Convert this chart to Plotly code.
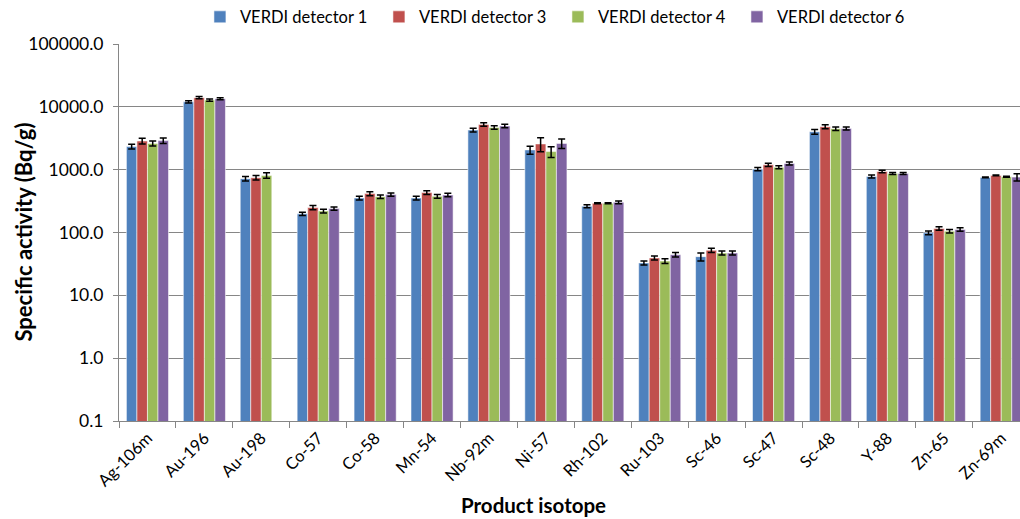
import plotly.graph_objects as go

isotopes = ["Ag-106m", "Au-196", "Au-198", "Co-57", "Co-58", "Mn-54", "Nb-92m", "Ni-57",
            "Rh-102", "Ru-103", "Sc-46", "Sc-47", "Sc-48", "Y-88", "Zn-65", "Zn-69m"]

det1 = [2330, 12000, 720, 198, 354, 354, 4280, 2065, 262, 32.8, 41.3, 1018, 4020, 780, 98.8, 753]
det3 = [2860, 14000, 745, 250, 416, 432, 5250, 2570, 292, 39.4, 52.1, 1195, 4830, 937, 116, 810]
det4 = [2620, 12800, 810, 220, 372, 377, 4710, 1940, 292, 35.2, 47.2, 1095, 4490, 871, 105, 773]
det6 = [2900, 13500, None, 240, 401, 395, 4960, 2620, 303, 44.4, 47.2, 1254, 4540, 871, 112, 761]

err1 = [200, 500, 60, 12, 25, 25, 300, 300, 15, 2.5, 6, 60, 350, 40, 7, 10]
err3 = [300, 600, 60, 20, 30, 30, 350, 650, 5, 3, 4, 70, 350, 40, 7, 10]
err4 = [250, 500, 80, 15, 25, 25, 300, 380, 5, 3, 3.5, 60, 300, 30, 7, 15]
err6 = [300, 500, 0, 15, 25, 25, 300, 450, 15, 3.5, 3.5, 70, 250, 30, 7, 100]

series_names = ["VERDI detector 1", "VERDI detector 3", "VERDI detector 4", "VERDI detector 6"]
series_values = [det1, det3, det4, det6]
series_errors = [err1, err3, err4, err6]
colors = ["#4F81BD", "#C0504D", "#9BBB59", "#8064A2"]

y_ticks = [0.1, 1, 10, 100, 1000, 10000, 100000]
y_ticktext = ["0.1", "1.0", "10.0", "100.0", "1000.0", "10000.0", "100000.0"]

FONT = "Lato, Calibri, 'Liberation Sans', sans-serif"

fig = go.Figure()
for name, vals, errs, col in zip(series_names, series_values, series_errors, colors):
    fig.add_trace(go.Bar(
        name=name, x=isotopes, y=vals,
        marker=dict(color=col, line=dict(color="rgba(255,255,255,0.55)", width=1)),
        error_y=dict(type="data", array=errs, visible=True, color="black",
                     thickness=1.5, width=3.5),
    ))

fig.update_layout(
    width=1020, height=519,
    margin=dict(l=119, r=0, t=44, b=98, autoexpand=False),
    paper_bgcolor="white", plot_bgcolor="white",
    barmode="group", bargap=0.26, bargroupgap=0,
    font=dict(family=FONT, size=16, color="black"),
    legend=dict(orientation="h", xref="container", yref="container",
                x=0.547, xanchor="center", y=0.967, yanchor="middle",
                entrywidth=134, entrywidthmode="pixels",
                font=dict(size=16.5), traceorder="normal"),
    showlegend=True,
)

fig.update_xaxes(
    type="category", range=[-0.5, 15.33], automargin=False,
    showline=True, linecolor="#868686", linewidth=1,
    ticks="outside", ticklen=6, tickcolor="#868686", tickson="boundaries",
    tickangle=-45, tickfont=dict(size=16.5),
    showgrid=False,
)
fig.update_yaxes(
    type="log", range=[-1, 5], automargin=False,
    tickvals=y_ticks, ticktext=y_ticktext,
    showline=True, linecolor="#868686", linewidth=1,
    ticks="outside", ticklen=5, tickcolor="#868686",
    showgrid=True, gridcolor="#868686", gridwidth=1,
    tickfont=dict(size=17.5), ticklabelstandoff=6,
    zeroline=False,
)

fig.add_annotation(text="<b>Specific activity (Bq/g)</b>", xref="paper", yref="paper",
                   x=-0.1065, y=0.5, xanchor="center", yanchor="middle", textangle=-90,
                   showarrow=False, font=dict(size=22, family=FONT))
fig.add_annotation(text="<b>Product isotope</b>", xref="paper", yref="paper",
                   x=0.4595, y=-0.2228, xanchor="center", yanchor="middle",
                   showarrow=False, font=dict(size=20.5, family=FONT))

fig.write_html("out.html", config={"displayModeBar": False},
               post_script="document.body.style.margin='0';document.body.style.overflow='hidden';")
